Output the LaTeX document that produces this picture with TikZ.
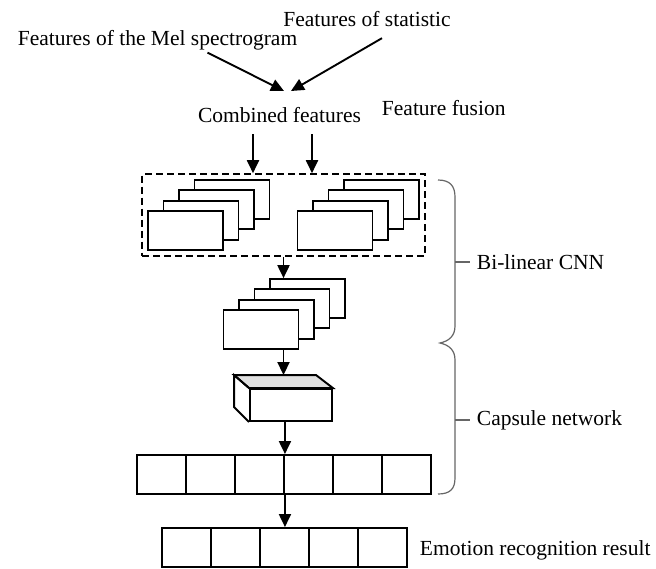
\documentclass[tikz,border=0pt]{standalone}
\usepackage{fontspec}
\setmainfont{Liberation Serif}
\usepackage{tikz}
\usetikzlibrary{positioning,%
  fit,%
  calc,%
  arrows.meta
}

\newcommand\cardstack[2]{%
  \foreach \k in {3,2,1,0}
    \node[card] (#1\k) at ($(#2)+(15.5*\k,-10.3*\k)$) {};%
}

\begin{document}
\begin{tikzpicture}
                    [x=1pt, y=-1pt,
                    lbl/.style={inner sep=0pt,
                        font=\fontsize{21.5}{25}\selectfont},
                    card/.style={rectangle,
                        draw, fill=white, inner sep=0pt,
                        minimum width=75pt, minimum height=39pt},
                    cell/.style={rectangle,
                        draw, inner sep=0pt,
                        minimum width=49pt, minimum height=39pt},
                    arr/.style={-{Triangle[length=13pt,width=12pt]}},
                    brace/.style={draw=black!60, line width=1.2pt},
                    line width=1.9pt]

                    \useasboundingbox (0,0) rectangle (656,568);

                    \node[lbl, anchor=base] (mel) at (157.5,45)
                        {Features of the Mel spectrogram};
                    \node[lbl, anchor=base] (stat) at (367,26)
                        {Features of statistic};
                    \node[lbl, anchor=base] (comb) at (279.5,122)
                        {Combined features};
                    \node[lbl, anchor=base west] (fusion) at (381,115)
                        {Feature fusion};
                    \coordinate (tipL) at (284,91);
                    \coordinate (tipR) at (291,91);

                    \draw[arr]
                        ([xshift=50pt,yshift=-2pt]mel.south) -- (tipL);
                    \draw[arr]
                        ([xshift=15pt,yshift=-11pt]stat.south) -- (tipR);

                    % two CNN branches
                    \cardstack{lft}{185.5,230.5}
                    \cardstack{rgt}{335,230.5}
                    \node[draw, dash pattern=on 7pt off 4pt, inner sep=5pt,
                        fit=(lft0)(lft3)(rgt0)(rgt3)] (fusebox) {};

                    \coordinate (inL) at ([xshift=-26.5pt,yshift=-11pt]comb.south);
                    \coordinate (inR) at ([xshift=32.5pt,yshift=-11pt]comb.south);
                    \draw[arr] (inL) -- (inL |- fusebox.north);
                    \draw[arr] (inR) -- (inR |- fusebox.north);

                    \cardstack{mid}{261,329.5}
                    \draw[arr]
                        (fusebox.south) -- (fusebox.south |- mid3.north);

                    % capsule block
                    \node[rectangle, draw, inner sep=0pt,
                        minimum width=82pt, minimum height=32pt]
                        (cube) at (291,405) {};
                    \draw[fill=black!12] (cube.north west) -- ++(-15,-13)
                        -- ++(82,0) -- (cube.north east) -- cycle;
                    \draw (cube.north west) -- ++(-15,-13) -- ++(0,32)
                        -- (cube.south west);
                    \coordinate (cubetop) at ([yshift=13pt]cube.north);
                    \draw[arr]
                        (fusebox.south |- mid0.south) -- (fusebox.south |- cubetop);

                    \foreach \i in {1,...,6}
                        \node[cell] (caps\i) at (112.5+49*\i,474.5) {};
                    \foreach \i in {1,...,5}
                        \node[cell] (res\i) at (137.5+49*\i,547.5) {};

                    \draw[arr]
                        (caps3.north east |- cube.south) -- (caps3.north east);
                    \draw[arr]
                        (caps3.south east) -- (caps3.south east |- res3.north);

                    \node[lbl, anchor=base west] (emo) at (419,555)
                        {Emotion recognition result};

                    % braces
                    \draw[brace] (438,180) .. controls (450,180) and (455,186) .. (455,197)
                        -- (455,326) .. controls (455,336) and (449,341) .. (440,343)
                        .. controls (449,345) and (455,350) .. (455,360)
                        -- (455,478) .. controls (455,489) and (450,494) .. (438,494);
                    \node[lbl, anchor=west] (cnn) at (476,262) {Bi-linear CNN};
                    \node[lbl, anchor=west] (capsnet) at (476,420) {Capsule network};
                    \draw[brace] (455,262) -- ([xshift=-6pt]cnn.west);
                    \draw[brace] (455,420) -- ([xshift=-6pt]capsnet.west);
                \end{tikzpicture}
\end{document}
